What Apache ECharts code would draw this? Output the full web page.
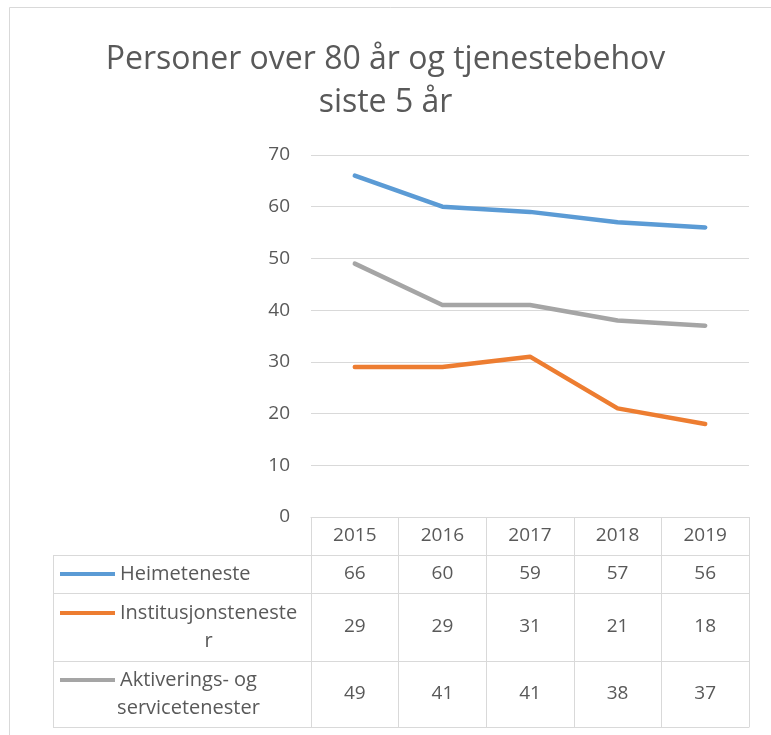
<!DOCTYPE html>
<html>
<head>
<meta charset="utf-8">
<script src="https://cdn.jsdelivr.net/npm/echarts@6/dist/echarts.min.js"></script>
<style>
html,body{margin:0;padding:0;background:#fff;}
#chart{width:771px;height:735px;}
</style>
</head>
<body>
<div id="chart"></div>
<script>
// ---- data ----
const years = ['2015', '2016', '2017', '2018', '2019'];
const seriesNames = ['Heimeteneste', 'Institusjonstenester', 'Aktiverings- og servicetenester'];
const heimeteneste = [66, 60, 59, 57, 56];
const institusjonstenester = [29, 29, 31, 21, 18];
const aktiveringstenester = [49, 41, 41, 38, 37];
const legendLabelLines = [['Heimeteneste'], ['Institusjonsteneste', 'r'], ['Aktiverings- og', 'servicetenester']];
const titleText = 'Personer over 80 år og tjenestebehov\nsiste 5 år';
const yMin = 0, yMax = 70, yInterval = 10;

// ---- styles / layout ----
const FONT = '"Open Sans", "Liberation Sans", sans-serif';
const TEXT_COLOR = '#595959';
const LINE_COLOR = '#d9d9d9';
const colors = ['#5b9bd5', '#ed7d31', '#a5a5a5'];
const GRID_L = 311, GRID_R = 749, GRID_T = 155, GRID_B = 517;
const rowTops = [517, 555, 593, 661, 727];
const TABLE_L = 53;
const KEY_X = 60, KEY_W = 55, TEXT_X = 120;
const FS = 19;
const LEG_FS = 20;

const rows = [heimeteneste, institusjonstenester, aktiveringstenester];

const chart = echarts.init(document.getElementById('chart'), null, {renderer: 'canvas'});

function measure(t, fs) {
  const c = document.createElement('canvas').getContext('2d');
  c.font = fs + 'px ' + FONT;
  return c.measureText(t).width;
}

const xAxes = [];
// year row
xAxes.push({
  type: 'category', data: years, position: 'bottom', offset: 0, gridIndex: 0,
  boundaryGap: true,
  axisLine: {show: true, lineStyle: {color: LINE_COLOR, width: 1}},
  axisTick: {show: true, length: rowTops[4] - rowTops[0], lineStyle: {color: LINE_COLOR, width: 1}},
  axisLabel: {interval: 0, margin: (rowTops[1] - rowTops[0]) / 2, verticalAlign: 'middle',
    color: TEXT_COLOR, fontSize: FS, fontFamily: FONT}
});
// value rows
rows.forEach((vals, i) => {
  xAxes.push({
    type: 'category', data: years, position: 'bottom', offset: rowTops[i + 1] - rowTops[0], gridIndex: 0,
    axisLine: {show: true, lineStyle: {color: LINE_COLOR, width: 1}},
    axisTick: {show: false},
    axisLabel: {interval: 0, margin: (rowTops[i + 2] - rowTops[i + 1]) / 2, verticalAlign: 'middle',
      color: TEXT_COLOR, fontSize: FS, fontFamily: FONT,
      formatter: (v, idx) => String(vals[idx])}
  });
});
// bottom border line of table
xAxes.push({
  type: 'category', data: years, position: 'bottom', offset: rowTops[4] - rowTops[0], gridIndex: 0,
  axisLine: {show: true, lineStyle: {color: LINE_COLOR, width: 1}},
  axisTick: {show: false}, axisLabel: {show: false}
});

// legend column of the data table
const graphics = [];
graphics.push({type: 'rect', silent: true, z: -1,
  shape: {x: 9.5, y: 7.5, width: 900, height: 900},
  style: {fill: 'none', stroke: LINE_COLOR, lineWidth: 1}});
for (let k = 1; k < rowTops.length; k++) {
  graphics.push({type: 'line', silent: true,
    shape: {x1: TABLE_L, y1: rowTops[k] + 0.5, x2: GRID_L, y2: rowTops[k] + 0.5},
    style: {stroke: LINE_COLOR, lineWidth: 1}});
}
graphics.push({type: 'line', silent: true,
  shape: {x1: TABLE_L + 0.5, y1: rowTops[1], x2: TABLE_L + 0.5, y2: rowTops[4]},
  style: {stroke: LINE_COLOR, lineWidth: 1}});
const LH = 28;
legendLabelLines.forEach((lines, i) => {
  const top = rowTops[i + 1], bot = rowTops[i + 2];
  const center = (top + bot) / 2;
  const firstY = center - (lines.length - 1) * LH / 2;
  graphics.push({type: 'rect', silent: true,
    shape: {x: KEY_X, y: firstY - 2, width: KEY_W, height: 4},
    style: {fill: colors[i]}});
  const w = measure(lines[0], LEG_FS);
  graphics.push({type: 'text', silent: true,
    x: TEXT_X + w / 2, y: center,
    style: {text: lines.join('\n'), fill: TEXT_COLOR, font: LEG_FS + 'px ' + FONT,
      textAlign: 'center', textVerticalAlign: 'middle', lineHeight: LH}});
});

const option = {
  backgroundColor: '#fff',
  animation: false,
  color: colors,
  title: {
    text: titleText, left: 'center', top: 33, padding: [5, 0, 5, 12],
    textStyle: {fontSize: 32, fontWeight: 'normal', color: TEXT_COLOR, fontFamily: FONT, lineHeight: 43}
  },
  grid: {left: GRID_L, right: 771 - GRID_R, top: GRID_T, bottom: 735 - GRID_B, containLabel: false},
  xAxis: xAxes,
  yAxis: {
    type: 'value', min: yMin, max: yMax, interval: yInterval,
    axisLine: {show: false}, axisTick: {show: false},
    axisLabel: {color: TEXT_COLOR, fontSize: FS, fontFamily: FONT, margin: 21},
    splitLine: {lineStyle: {color: LINE_COLOR, width: 1}}
  },
  series: rows.map((vals, i) => ({
    name: seriesNames[i], type: 'line', data: vals, xAxisIndex: 0,
    symbol: 'none', smooth: false,
    lineStyle: {width: 4.5, color: colors[i], cap: 'round', join: 'round'}
  })),
  graphic: graphics
};
chart.setOption(option);
</script>
</body>
</html>
